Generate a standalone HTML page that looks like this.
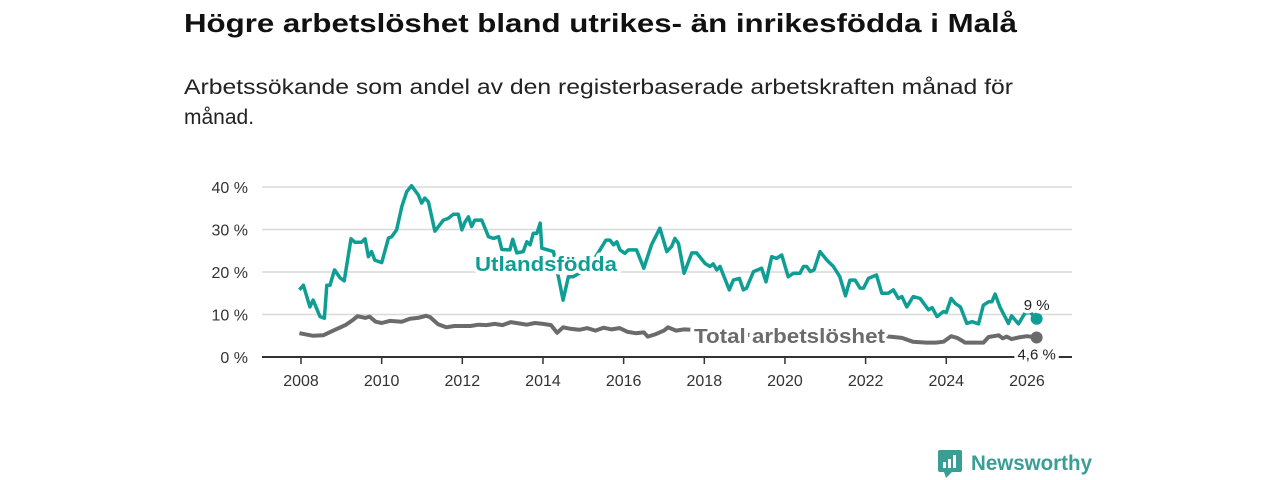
<!DOCTYPE html>
<html><head><meta charset="utf-8">
<style>
html,body{margin:0;padding:0;background:#fff;width:1280px;height:480px;overflow:hidden}
svg{display:block;font-family:"Liberation Sans",sans-serif}
</style></head>
<body>
<svg id="chart" width="1280" height="480" viewBox="0 0 1280 480">
<text x="184" y="32" font-size="26" font-weight="bold" fill="#111" textLength="833" lengthAdjust="spacingAndGlyphs">Högre arbetslöshet bland utrikes- än inrikesfödda i Malå</text>
<text x="184" y="94" font-size="21" fill="#222" textLength="829" lengthAdjust="spacingAndGlyphs">Arbetssökande som andel av den registerbaserade arbetskraften månad för</text>
<text x="184" y="124" font-size="21" fill="#222">månad.</text>
<g id="grid"></g>
<g id="xaxis"></g>
<g id="series"></g>
<g id="labels"></g>
<g>
<rect x="938" y="450" width="24" height="22" rx="2" fill="#3a9e94"/>
<polygon points="944,472 952,472 946,478" fill="#3a9e94"/>
<rect x="943" y="462" width="3" height="6" fill="#fff"/><rect x="948" y="459" width="3" height="9" fill="#fff"/><rect x="953" y="455" width="3" height="13" fill="#fff"/>
<text x="971" y="470" font-size="21" font-weight="bold" fill="#3a9e94" textLength="121" lengthAdjust="spacingAndGlyphs">Newsworthy</text>
</g>
</svg>
<script>
const yTicks=[0,10,20,30,40];
const yTickLabels=["0 %","10 %","20 %","30 %","40 %"];
const xTicks=[2008,2010,2012,2014,2016,2018,2020,2022,2024,2026];
const utlYears=[2007.96,2008.06,2008.22,2008.3,2008.47,2008.58,2008.64,2008.72,2008.83,2008.97,2009.07,2009.24,2009.34,2009.5,2009.59,2009.67,2009.75,2009.83,2010.0,2010.17,2010.25,2010.37,2010.5,2010.62,2010.74,2010.91,2010.99,2011.07,2011.16,2011.32,2011.53,2011.65,2011.78,2011.9,2011.99,2012.07,2012.15,2012.23,2012.31,2012.48,2012.65,2012.77,2012.9,2012.98,2013.18,2013.25,2013.35,2013.51,2013.6,2013.68,2013.76,2013.85,2013.93,2013.97,2014.26,2014.38,2014.5,2014.63,2014.75,2014.95,2015.2,2015.4,2015.56,2015.66,2015.75,2015.83,2015.91,2016.03,2016.12,2016.32,2016.5,2016.69,2016.9,2017.07,2017.19,2017.27,2017.36,2017.5,2017.69,2017.81,2018.02,2018.14,2018.22,2018.31,2018.39,2018.62,2018.72,2018.87,2018.97,2019.05,2019.22,2019.42,2019.53,2019.67,2019.79,2019.92,2020.08,2020.21,2020.37,2020.46,2020.54,2020.63,2020.72,2020.87,2021.04,2021.2,2021.36,2021.5,2021.61,2021.74,2021.86,2021.95,2022.07,2022.27,2022.4,2022.56,2022.69,2022.81,2022.9,2023.02,2023.18,2023.35,2023.56,2023.65,2023.77,2023.93,2024.0,2024.12,2024.22,2024.35,2024.51,2024.64,2024.8,2024.92,2025.05,2025.13,2025.21,2025.33,2025.54,2025.62,2025.79,2025.95,2026.08,2026.24];
const utlValues=[15.8,16.9,11.8,13.4,9.5,9.1,16.9,16.9,20.5,18.6,17.9,27.8,27,27,27.8,23.6,24.8,22.8,22.2,28,28.3,29.9,35.4,38.9,40.3,38.1,36.2,37.4,36.5,29.6,32.2,32.6,33.6,33.6,29.9,31.8,33,30.7,32.2,32.2,28.3,27.9,28.3,25.3,25.2,27.7,24.5,24.8,27.1,26.4,29.1,29.1,31.5,25.6,24.8,19,13.4,18.9,18.9,20,22,25,27.5,27.5,26.4,27.1,25.2,24.4,25.2,25.2,20.9,26.4,30.3,24.8,26,27.9,26.7,19.7,24.5,24.5,22,21.3,21.9,20.5,21.3,15.8,18.1,18.5,15.8,16.2,20.1,20.9,17.7,23.6,23.2,24,18.9,19.7,19.7,21.3,21.3,20.1,20.5,24.8,22.8,21.3,18.9,14.4,18.1,18.1,16.2,16.2,18.5,19.3,15,15,15.8,13.8,14.2,11.8,14.2,13.8,11.1,11.6,9.5,10.7,10.5,13.8,12.6,11.8,7.9,8.3,7.8,12.2,13,13,14.8,11.8,7.9,9.7,7.8,10.3,10.5,9.0];
const totYears=[2007.96,2008.3,2008.55,2008.8,2009.1,2009.3,2009.4,2009.6,2009.7,2009.85,2010.0,2010.2,2010.5,2010.7,2010.9,2011.1,2011.2,2011.4,2011.6,2011.8,2012.0,2012.2,2012.4,2012.6,2012.8,2013.0,2013.2,2013.4,2013.6,2013.8,2014.0,2014.2,2014.35,2014.5,2014.7,2014.9,2015.1,2015.3,2015.5,2015.7,2015.9,2016.1,2016.3,2016.5,2016.6,2016.8,2017.0,2017.1,2017.3,2017.5,2017.7,2018.0,2019.0,2020.0,2021.0,2022.0,2022.6,2022.9,2023.17,2023.5,2023.75,2023.93,2024.12,2024.27,2024.47,2024.92,2025.05,2025.3,2025.4,2025.5,2025.62,2025.8,2026.0,2026.24];
const totValues=[5.6,5.0,5.1,6.2,7.5,8.8,9.6,9.2,9.5,8.3,8.0,8.5,8.3,9.0,9.2,9.7,9.4,7.7,7.0,7.3,7.3,7.3,7.6,7.5,7.8,7.5,8.2,7.9,7.6,8.0,7.8,7.5,5.7,7.0,6.6,6.4,6.8,6.2,6.9,6.5,6.8,5.9,5.6,5.8,4.8,5.4,6.2,7.0,6.2,6.5,6.4,5.5,5.2,5.3,5.2,5.0,4.8,4.5,3.6,3.4,3.4,3.6,4.9,4.5,3.4,3.4,4.7,5.1,4.4,4.8,4.2,4.6,4.9,4.6];
const utlLast="9 %", totLast="4,6 %";

const X=y=>301+(y-2008)*40.33;
const Y=v=>357-v*4.25;
const NS="http://www.w3.org/2000/svg";
function mk(tag,attrs,parent){const e=document.createElementNS(NS,tag);for(const k in attrs)e.setAttribute(k,attrs[k]);parent.appendChild(e);return e;}
const grid=document.getElementById('grid'),xa=document.getElementById('xaxis'),ser=document.getElementById('series'),lab=document.getElementById('labels');
yTicks.forEach((t,i)=>{
  if(t>0){const l=mk('line',{x1:262,x2:1072,y1:Y(t),y2:Y(t),stroke:'#d9d9d9','stroke-width':1.5},grid);
  
  }
  const tx=mk('text',{x:248,y:Y(t)+6,'font-size':16,fill:'#333','text-anchor':'end'},grid);
  tx.textContent=yTickLabels[i];
  
  
});
const ax=mk('line',{x1:262,x2:1072,y1:357,y2:357,stroke:'#333','stroke-width':2},xa);


xTicks.forEach(t=>{
  const tk=mk('line',{x1:X(t),x2:X(t),y1:357,y2:364,stroke:'#333','stroke-width':1.5},xa);
  
  
  const tx=mk('text',{x:X(t),y:386,'font-size':16,fill:'#333','text-anchor':'middle'},xa);
  tx.textContent=t;
  
  
});
function line(xs,vs,color,name,w){
  const d=xs.map((x,i)=>(i?'L':'M')+X(x).toFixed(1)+','+Y(vs[i]).toFixed(1)).join('');
  const p=mk('path',{d:d,fill:'none',stroke:color,'stroke-width':w,'stroke-linejoin':'round'},ser);
  
  
  const c=mk('circle',{cx:X(xs[xs.length-1]),cy:Y(vs[vs.length-1]),r:6,fill:color},ser);
  
  
}
line(totYears,totValues,'#6b6b6b','total-line',4);
line(utlYears,utlValues,'#0f9e94','utlandsfodda-line',3.5);
function label(txt,x,y,size,color,bold,name,anchor,len){
  const a={x:x,y:y,'font-size':size,fill:color,'font-weight':bold?'bold':'normal',stroke:'#fff','stroke-width':7,'paint-order':'stroke','stroke-linejoin':'round','text-anchor':anchor||'start'};
  if(len){a.textLength=len;a.lengthAdjust='spacingAndGlyphs';}
  const t=mk('text',a,lab);
  t.textContent=txt;
  
  
}
label('Utlandsfödda',475,271,20,'#0f9e94',true,'utlandsfodda-label','start',142);
label('Total arbetslöshet',694,343,20,'#6b6b6b',true,'total-label','start',191);
label(utlLast,X(2026.24),Y(utlValues[utlValues.length-1])-9,15,'#222',false,'utlandsfodda-value-label','middle');
label(totLast,X(2026.24),Y(totValues[totValues.length-1])+22,15,'#222',false,'total-value-label','middle');
</script>
</body></html>
